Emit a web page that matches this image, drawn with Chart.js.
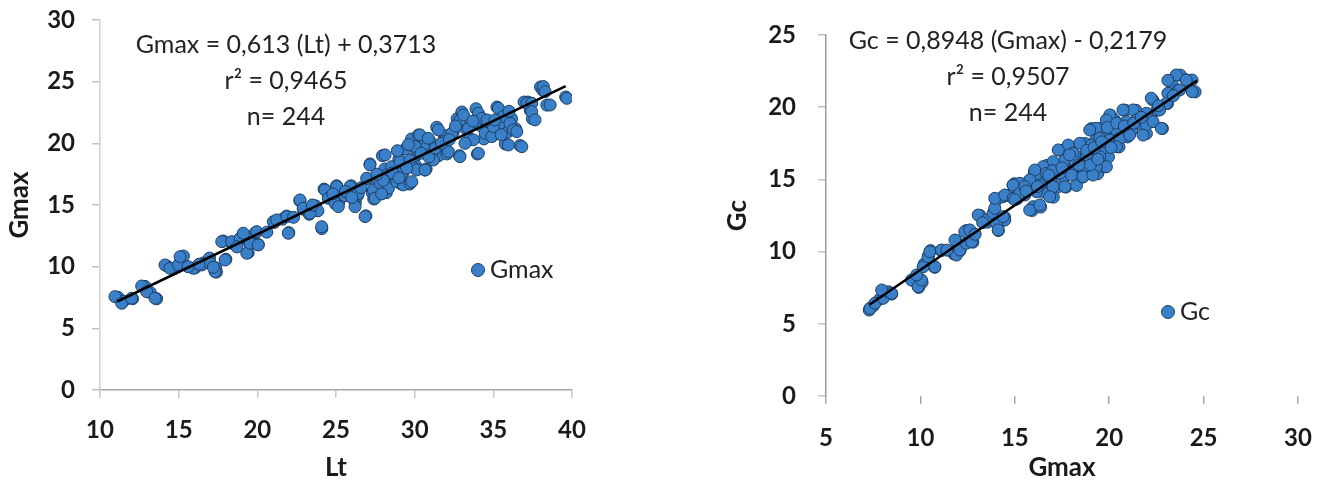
<!DOCTYPE html>
<html><head><meta charset="utf-8">
<script src="https://cdn.jsdelivr.net/npm/chart.js@4.4.1/dist/chart.umd.min.js"></script>
<style>
html,body{margin:0;padding:0;background:#fff;}
#wrap{position:relative;width:1319px;height:485px;overflow:hidden;background:#fff;}
canvas{position:absolute;top:0;}
#c1{left:0;} #c2{left:660px;}
</style></head><body>
<div id="wrap"><canvas id="c1" width="660" height="485"></canvas><canvas id="c2" width="659" height="485"></canvas></div>
<script>
// ---------- data ----------
// Left panel: Gmax vs Lt  [Lt, Gmax]
const gmaxVsLt = [
[11.14,7.52],[11.5,7.2],[12.07,7.4],[12.86,8.4],[13.2,7.9],[13.6,7.4],[14.26,10.05],[14.7,9.83],[15.1,10.3],[15.3,10.86],
[16.04,9.9],[16.57,10.3],[16.96,10.7],[17.36,9.9],[17.4,9.56],[17.84,12.08],[18.0,10.6],[18.4,11.9],[18.95,12.35],[19.42,11.13],
[19.48,11.95],[19.88,12.76],[20.06,11.8],[21.07,13.58],[21.6,13.85],[21.86,14.1],[22.0,12.76],[22.7,15.34],[22.92,14.66],[23.3,14.25],
[23.7,14.93],[23.85,14.53],[24.1,13.09],[24.24,16.29],[24.64,15.75],[25.04,16.56],[25.17,15.2],[25.57,15.75],[25.97,16.56],[26.23,15.2],
[26.36,15.75],[26.9,14.12],[27.0,17.1],[27.16,18.33],[27.3,16.0],[27.4,15.48],[27.7,16.56],[27.95,19.0],[28.1,17.92],[28.2,16.0],
[28.5,17.1],[28.75,17.65],[29.0,18.73],[29.14,16.7],[29.27,17.65],[29.4,19.55],[29.67,16.7],[29.8,20.36],[29.94,18.73],[30.07,18.19],
[30.33,20.63],[30.6,19.82],[30.73,17.92],[31.0,20.1],[31.4,21.3],[31.52,19.0],[31.9,20.63],[32.05,19.14],[32.45,20.9],[32.7,22.0],
[32.85,19.0],[33.0,22.54],[33.25,21.18],[33.5,20.36],[33.9,22.8],[33.99,19.14],[34.17,21.45],[34.4,20.36],[34.7,20.9],[34.97,20.63],
[35.23,22.94],[35.36,22.0],[35.6,21.45],[35.76,19.95],[35.9,20.9],[36.16,22.0],[36.42,21.18],[36.7,19.82],[36.95,23.35],[37.2,23.35],
[37.35,22.67],[37.48,22.0],[38.0,24.57],[38.15,24.3],[38.4,23.1],[39.6,23.76],
[10.95,7.57],[11.38,7.03],[12.01,7.44],[12.65,8.43],[12.97,7.97],[13.5,7.44],[14.13,10.14],[14.45,9.87],[14.98,10.14],[15.09,10.81],
[15.93,9.87],[16.47,10.14],[17.0,10.27],[17.31,9.59],[17.2,9.95],[17.95,10.54],[17.74,12.03],[18.37,12.03],[18.9,12.3],[19.11,12.71],
[19.33,11.09],[19.54,11.9],[19.96,12.84],[20.06,11.76],[21.02,13.65],
[21.97,12.71],[21.23,13.79],[21.87,14.06],[22.71,15.41],[22.92,14.74],[23.35,14.33],[24.09,13.24],[24.3,16.22],[24.51,15.55],[24.94,15.13],
[25.05,16.49],[25.15,14.87],[25.89,16.49],[26.1,15.55],[26.21,14.87],[26.42,15.94],[26.85,14.06],[26.95,17.17],[27.16,18.25],[27.38,16.22],
[27.48,15.55],[27.8,16.76],[28.12,19.06],[28.23,17.44],[28.33,16.36],[28.54,18.11],[28.86,16.89],[29.07,18.52],[29.18,17.57],[29.28,16.63],
[29.71,18.65],[29.71,16.76],[30.03,17.98],[30.13,19.46],[30.24,20.68],[30.66,17.84],[30.77,19.73],
[29.82,16.89],[30.13,17.84],[30.66,17.84],[30.03,19.73],[30.34,20.68],[30.87,20.41],[31.09,19.19],[31.19,18.65],[31.51,21.09],[31.82,20.14],
[32.14,19.33],[32.36,20.82],[32.88,18.92],[32.88,21.9],[33.1,22.3],[33.41,21.22],[33.73,20.28],[34.05,19.2],[34.05,22.44],[34.27,22.03],
[34.48,20.82],[34.9,20.55],[35.0,21.36],[35.32,22.85],[35.64,22.17],[36.06,21.63],[35.96,19.87],[36.28,21.09],[36.49,20.95],[36.81,19.73],
[37.13,23.25],[37.44,23.25],[37.44,22.57],[37.65,21.9],[38.18,24.6],[38.29,24.19],[38.61,23.11],[39.67,23.65],
[28.0,17.0],[28.6,17.6],[29.5,18.0],[29.0,17.2],[27.6,17.5],[26.6,16.4],[27.9,15.9],[28.9,19.4],[29.6,19.9],[30.4,19.2],
[30.9,18.9],[31.3,19.6],[31.7,20.0],[32.2,20.3],[32.6,21.4],[33.2,20.0],[33.7,21.8],[34.6,21.9],[35.1,21.9],[35.5,20.7],
[36.0,22.6],[25.6,16.1],[26.0,15.6],[24.8,15.9],[23.5,15.0],[22.3,14.0],[20.6,12.8],[18.7,11.6],[16.3,10.2],[15.6,10.0]
];
// Right panel: Gc vs Gmax  [Gmax, Gc]
const gcVsGmax = [
[7.29,5.95],[7.51,6.25],[7.85,6.71],[8.18,7.1],[8.48,7.06],[9.64,7.99],[9.91,7.52],[10.09,7.87],[10.2,9.14],[10.43,9.72],
[10.54,10.07],[10.76,8.91],[11.1,10.07],[11.77,9.84],[11.88,10.76],[12.1,10.07],[12.44,11.46],[12.78,10.65],[13.16,12.5],[13.56,12.04],
[14.01,13.54],[14.13,11.46],[14.24,12.04],[14.46,12.38],[14.53,13.89],[14.98,14.7],[15.13,13.66],[15.36,14.12],[15.52,14.47],[15.7,14.81],
[15.8,14.93],[15.92,12.85],[16.03,15.51],[16.26,15.16],[16.37,13.08],[16.48,14.12],[16.59,14.81],[16.7,15.97],[16.93,15.05],[17.04,13.77],
[17.26,14.47],[17.44,17.01],[17.6,15.16],[17.71,14.47],[17.83,15.97],[17.94,17.25],[18.05,15.39],[18.27,14.58],[18.39,16.55],[18.5,15.86],
[18.61,15.16],[18.72,17.48],[18.83,16.55],[18.95,15.51],[19.06,18.52],[19.17,16.32],[19.28,17.71],[19.39,15.39],[19.51,18.52],[19.62,16.9],
[19.73,15.86],[19.84,18.17],[19.96,16.55],[20.07,19.44],[20.18,17.71],[20.29,19.1],[20.52,17.25],[20.63,18.4],[20.85,19.79],[20.96,17.94],
[21.19,18.4],[21.41,19.79],[21.64,18.87],[21.97,18.17],[22.2,19.33],[22.31,20.49],[22.53,19.79],[22.82,18.52],[23.09,20.25],[23.32,21.64],
[23.65,21.18],[23.77,22.22],[24.1,21.88],[24.39,21.88],[24.55,21.06],
[23.55,22.23],[23.11,21.86],[24.08,21.88],[24.4,21.07],[23.73,21.19],[22.23,20.62],[23.11,20.96],[23.03,20.27],[22.67,19.81],[21.97,19.58],
[21.26,19.81],[20.73,19.81],[20.03,19.46],[19.85,19.11],[20.91,19.0],[21.44,19.11],[21.97,18.77],[22.32,19.0],[22.76,18.54],[21.79,18.07],
[20.38,18.42],[19.32,18.54],[18.97,18.42],[19.5,17.85],[20.03,17.73],[20.56,17.85],[21.08,18.07],[20.38,17.26],[19.67,17.15],[19.06,17.38],
[18.44,17.5],[17.83,17.38],[17.3,17.04],[18.08,16.81],[18.79,16.69],[19.5,16.57],[19.85,15.88],[19.32,15.88],[18.7,15.88],[18.17,15.88],
[17.65,16.34],[17.03,16.23],[16.5,15.88],[16.06,15.65],[16.68,15.42],[17.38,15.42],[18.0,15.3],[18.61,15.19],[19.14,15.3],[17.65,14.49],
[17.03,14.49],[16.32,14.61],[15.79,14.96],[15.26,14.73],[14.91,14.61],[14.91,14.04],[15.53,13.92],[16.15,14.15],[16.85,13.8],[14.38,13.8],
[15.97,13.11],[15.79,12.88],[16.32,13.23],[14.47,12.19],
[7.33,6.07],[7.59,6.42],[8.03,6.77],[8.3,7.22],[8.48,7.11],[7.95,7.34],[9.53,8.03],[9.88,7.57],[10.06,8.03],[9.8,8.38],
[10.15,8.95],[10.41,9.65],[10.5,9.99],[10.77,8.95],[11.12,10.11],[11.74,9.99],[11.83,10.8],[11.91,9.76],[12.09,10.11],[12.44,10.57],
[12.35,11.38],[12.71,10.69],[12.62,11.5],[13.06,12.53],[13.5,12.19],[13.85,12.65],[14.03,11.96],[14.12,11.5],[13.94,13.0],[13.94,13.69],
[14.38,12.42],[14.47,13.92],[14.91,13.69],[14.91,14.61],[15.26,14.04],[15.53,14.5],
[17.0,15.6],[17.5,15.8],[18.2,16.2],[18.8,17.0],[19.2,17.2],[19.6,17.6],[19.9,18.6],[20.4,18.9],[20.8,18.7],[21.3,18.9],
[21.7,19.3],[18.4,16.0],[17.9,16.7],[16.8,15.3],[16.2,14.5],[15.6,14.2],[15.0,13.6],[19.0,16.0],[19.4,16.4],[20.1,17.2],
[22.6,20.1],[23.4,20.8],[13.3,12.0],[12.9,11.2],[11.4,10.1]
];
// Regression lines (coefficients as printed on the chart) and their x extent
const leftFit = { slope: 0.613, intercept: 0.3713, xFrom: 11.1, xTo: 39.6 };
const rightFit = { slope: 0.8948, intercept: -0.2179, xFrom: 7.3, xTo: 24.65 };
// Axis ticks
const leftXTicks = [10, 15, 20, 25, 30, 35, 40];
const leftYTicks = [0, 5, 10, 15, 20, 25, 30];
const rightXTicks = [5, 10, 15, 20, 25, 30];
const rightYTicks = [0, 5, 10, 15, 20, 25];
// Texts
const leftEquation = ['Gmax = 0,613 (Lt) + 0,3713', 'r\u00B2 = 0,9465', 'n= 244'];
const rightEquation = ['Gc = 0,8948 (Gmax) - 0,2179', 'r\u00B2 = 0,9507', 'n= 244'];

// ---------- styles ----------
const FONT = 'Lato, "Liberation Sans", sans-serif';
const POINT_FILL = '#3a80c8';
const POINT_EDGE = '#1d3f66';
const TEXT = '#1a1a1a';

function fitLine(f) {
  return [f.xFrom, f.xTo].map(x => ({ x, y: f.slope * x + f.intercept }));
}

const textPlugin = {
  id: 'chartTexts',
  afterDraw(chart, args, o) {
    const ctx = chart.ctx;
    ctx.save();
    ctx.fillStyle = '#222';
    ctx.font = '25px ' + FONT;
    ctx.textAlign = 'center';
    ctx.textBaseline = 'middle';
    o.lines.forEach((t, i) => ctx.fillText(t, o.x, o.y + i * o.gap));
    // legend entry
    ctx.beginPath();
    ctx.arc(o.lx, o.ly, 6.5, 0, Math.PI * 2);
    ctx.fillStyle = POINT_FILL; ctx.fill();
    ctx.lineWidth = 1; ctx.strokeStyle = POINT_EDGE; ctx.stroke();
    ctx.fillStyle = '#222';
    ctx.textAlign = 'left';
    ctx.fillText(o.legend, o.lx + 12, o.ly);
    ctx.restore();
  }
};

function makeChart(id, cfg) {
  const fixTicks = arr => (s => { s.ticks = arr.map(v => ({ value: v })); });
  return new Chart(document.getElementById(id), {
    type: 'scatter',
    data: {
      datasets: [
        { type: 'line', data: fitLine(cfg.fit), borderColor: '#000', borderWidth: 2.5,
          pointRadius: 0, fill: false, order: 0 },
        { data: cfg.points.map(p => ({ x: p[0], y: p[1] })), pointRadius: 6,
          backgroundColor: POINT_FILL, borderColor: POINT_EDGE, borderWidth: 1, order: 1 }
      ]
    },
    options: {
      responsive: false, animation: false, devicePixelRatio: 1,
      layout: { padding: cfg.padding },
      plugins: { legend: { display: false }, tooltip: { enabled: false }, chartTexts: cfg.texts },
      scales: {
        x: {
          type: 'linear', min: cfg.xTicks[0], max: cfg.xTicks[cfg.xTicks.length - 1],
          afterBuildTicks: fixTicks(cfg.xTicks),
          afterFit: s => { s.height = cfg.xHeight; s.paddingLeft = 0; s.paddingRight = 0; },
          border: { display: cfg.xBorder, color: '#a6a6a6', width: 1.5 },
          grid: { drawOnChartArea: false, drawTicks: true, tickLength: 8, color: cfg.xTickColor, lineWidth: 1.5 },
          ticks: { color: TEXT, font: { family: FONT, size: 24, weight: 'bold' }, padding: cfg.xTickPad, maxRotation: 0 },
          title: { display: true, text: cfg.xTitle, color: TEXT, font: { family: FONT, size: 26, weight: 'bold' }, padding: 2 }
        },
        y: {
          type: 'linear', min: cfg.yTicks[0], max: cfg.yTicks[cfg.yTicks.length - 1],
          afterBuildTicks: fixTicks(cfg.yTicks),
          afterFit: s => { s.width = cfg.yWidth; s.paddingTop = 0; s.paddingBottom = 0; },
          border: { display: true, color: cfg.yAxisColor, width: 1.5 },
          grid: { drawOnChartArea: false, drawTicks: true, tickLength: 8, color: '#c0c0c0', lineWidth: 1.5 },
          ticks: { color: TEXT, font: { family: FONT, size: 24, weight: 'bold' }, padding: cfg.yTickPad },
          title: { display: true, text: cfg.yTitle, color: TEXT, font: { family: FONT, size: 26, weight: 'bold' }, padding: 4 }
        }
      }
    },
    plugins: [textPlugin]
  });
}

makeChart('c1', {
  points: gmaxVsLt, fit: leftFit, xTicks: leftXTicks, yTicks: leftYTicks,
  xTitle: 'Lt', yTitle: 'Gmax',
  padding: { left: 0, top: 20, right: 88, bottom: 0 },
  yWidth: 100, xHeight: 95, xTickPad: 18, yTickPad: 17, xBorder: true,
  yAxisColor: '#d0d0d0', xTickColor: '#c8c8c8',
  texts: { lines: leftEquation, x: 286, y: 45, gap: 36, legend: 'Gmax', lx: 478, ly: 270 }
});
makeChart('c2', {
  points: gcVsGmax, fit: rightFit, xTicks: rightXTicks, yTicks: rightYTicks,
  xTitle: 'Gmax', yTitle: 'Gc',
  padding: { left: 58, top: 35, right: 21, bottom: 0 },
  yWidth: 108, xHeight: 89, xTickPad: 20, yTickPad: 22, xBorder: false,
  yAxisColor: '#9a9a9a', xTickColor: '#a8a8a8',
  texts: { lines: rightEquation, x: 348, y: 41, gap: 36, legend: 'Gc', lx: 508, ly: 312 }
});
</script>
</body></html>
